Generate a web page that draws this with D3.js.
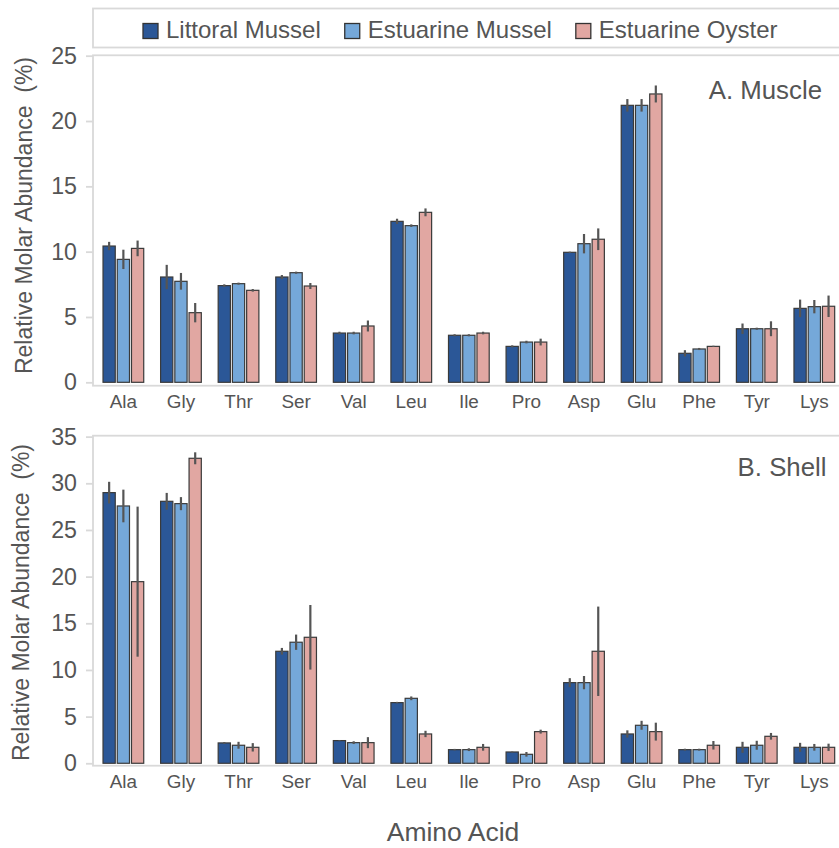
<!DOCTYPE html>
<html>
<head>
<meta charset="utf-8">
<script src="https://cdn.jsdelivr.net/npm/d3@7"></script>
<style>
  html, body { margin: 0; padding: 0; background: #fff; }
  svg { display: block; font-family: "Liberation Sans", Arial, sans-serif; }
</style>
</head>
<body>
<svg id="chart" width="839" height="848"></svg>
<script>
const categories = ["Ala","Gly","Thr","Ser","Val","Leu","Ile","Pro","Asp","Glu","Phe","Tyr","Lys"];
const series = ["Littoral Mussel","Estuarine Mussel","Estuarine Oyster"];
const seriesColors = ["#2b5797","#75a8d9","#e1a7a2"];

const muscleLittoral      = [10.43, 8.06, 7.40, 8.06, 3.77, 12.32, 3.60, 2.75, 9.95, 21.20, 2.22, 4.10, 5.66];
const muscleLittoralErr   = [0.32, 0.93, 0.10, 0.15, 0.10, 0.20, 0.08, 0.08, 0.05, 0.48, 0.24, 0.40, 0.67];
const muscleEstMussel     = [9.41, 7.73, 7.55, 8.39, 3.77, 11.99, 3.60, 3.08, 10.61, 21.20, 2.55, 4.10, 5.79];
const muscleEstMusselErr  = [0.74, 0.64, 0.08, 0.08, 0.10, 0.10, 0.08, 0.10, 0.74, 0.48, 0.08, 0.08, 0.51];
const muscleEstOyster     = [10.25, 5.33, 7.04, 7.37, 4.31, 13.01, 3.77, 3.08, 10.95, 22.07, 2.75, 4.10, 5.82];
const muscleEstOysterErr  = [0.60, 0.74, 0.10, 0.23, 0.42, 0.30, 0.10, 0.26, 0.83, 0.65, 0.05, 0.57, 0.82];

const shellLittoral       = [29.00, 28.07, 2.18, 12.00, 2.43, 6.50, 1.46, 1.21, 8.64, 3.14, 1.46, 1.71, 1.71];
const shellLittoralErr    = [1.16, 0.90, 0.10, 0.36, 0.05, 0.08, 0.08, 0.05, 0.48, 0.39, 0.10, 0.59, 0.48];
const shellEstMussel      = [27.57, 27.82, 1.93, 12.97, 2.21, 6.96, 1.46, 0.96, 8.64, 4.07, 1.46, 1.93, 1.71];
const shellEstMusselErr   = [1.75, 0.70, 0.37, 0.82, 0.15, 0.20, 0.15, 0.25, 0.71, 0.48, 0.10, 0.48, 0.36];
const shellEstOyster      = [19.46, 32.68, 1.71, 13.50, 2.21, 3.14, 1.71, 3.39, 12.00, 3.39, 1.93, 2.89, 1.71];
const shellEstOysterErr   = [8.04, 0.64, 0.45, 3.46, 0.59, 0.34, 0.36, 0.21, 4.79, 0.96, 0.46, 0.36, 0.39];

const muscleTicks = [0, 5, 10, 15, 20, 25];
const shellTicks = [0, 5, 10, 15, 20, 25, 30, 35];

const yTitle = "Relative Molar Abundance  (%)";
const xTitle = "Amino Acid";

const svg = d3.select("#chart");
const textColor = "#555555";
const borderColor = "#d9d9d9";

// x scales
const x = d3.scaleBand().domain(categories).range([93, 844.7]).paddingInner(0.293).paddingOuter(0.174);
const xs = d3.scaleBand().domain(series).range([0, x.bandwidth()]).paddingInner(0.14).paddingOuter(0);

// legend
const legend = svg.append("g");
legend.append("rect").attr("x", 93).attr("y", 8.5).attr("width", 760).attr("height", 39)
  .attr("fill", "none").attr("stroke", borderColor).attr("stroke-width", 1.8);
let lx = 143;
series.forEach((s, i) => {
  legend.append("rect").attr("x", lx).attr("y", 23.5).attr("width", 15).attr("height", 15)
    .attr("fill", seriesColors[i]).attr("stroke", "#333").attr("stroke-width", 1.3);
  const t = legend.append("text").attr("x", lx + 23).attr("y", 38.3)
    .attr("font-size", 24).attr("fill", textColor).text(s);
  lx = lx + 23 + t.node().getComputedTextLength() + 24;
});

function panel(cfg) {
  const g = svg.append("g");
  const y = d3.scaleLinear().domain(cfg.domain).range([cfg.bottom, cfg.top]);
  // border
  g.append("rect").attr("x", 93).attr("y", cfg.top).attr("width", 760).attr("height", cfg.bottom - cfg.top)
    .attr("fill", "none").attr("stroke", borderColor).attr("stroke-width", 1.8);
  // y axis
  const ax = g.append("g").attr("transform", "translate(93,0)")
    .call(d3.axisLeft(y).tickValues(cfg.ticks).tickSize(7).tickPadding(9).tickFormat(d3.format("d")));
  ax.select(".domain").remove();
  ax.selectAll(".tick line").attr("stroke", borderColor).attr("stroke-width", 1.8);
  ax.selectAll(".tick text").attr("fill", textColor).attr("font-size", 23.2)
    .style("font-family", '"Liberation Sans", Arial, sans-serif');
  // x axis labels
  const xa = g.append("g").attr("transform", `translate(0,${cfg.bottom})`)
    .call(d3.axisBottom(x).tickSize(0).tickPadding(cfg.xLabelPad));
  xa.select(".domain").remove();
  xa.selectAll(".tick text").attr("fill", textColor).attr("font-size", 18.9)
    .style("font-family", '"Liberation Sans", Arial, sans-serif');
  // bars
  const rows = [];
  categories.forEach((c, ci) => {
    series.forEach((s, si) => {
      rows.push({cat: c, ser: s, si: si, v: cfg.values[si][ci], e: cfg.errors[si][ci]});
    });
  });
  g.selectAll("rect.bar").data(rows).join("rect").attr("class", "bar")
    .attr("x", d => x(d.cat) + xs(d.ser))
    .attr("width", xs.bandwidth())
    .attr("y", d => y(d.v))
    .attr("height", d => y(0) - y(d.v))
    .attr("fill", d => seriesColors[d.si])
    .attr("stroke", "#3a3a3a").attr("stroke-width", 1.2);
  g.selectAll("line.err").data(rows).join("line").attr("class", "err")
    .attr("x1", d => x(d.cat) + xs(d.ser) + xs.bandwidth() / 2)
    .attr("x2", d => x(d.cat) + xs(d.ser) + xs.bandwidth() / 2)
    .attr("y1", d => y(d.v + d.e))
    .attr("y2", d => y(d.v - d.e))
    .attr("stroke", "#555").attr("stroke-width", 2.2);
  // panel label
  g.append("text").attr("x", cfg.labelX).attr("y", cfg.labelY).attr("text-anchor", "end")
    .attr("font-size", 25.8).attr("fill", textColor).text(cfg.label);
  // y title
  g.append("text").attr("transform", `translate(${cfg.titleX},${cfg.titleY}) rotate(-90)`)
    .attr("text-anchor", "middle").attr("font-size", 23).attr("fill", textColor)
    .style("white-space", "pre").text(yTitle);
}

panel({
  top: 55.3, bottom: 385.7, domain: [-0.26, 25.03],
  ticks: muscleTicks,
  values: [muscleLittoral, muscleEstMussel, muscleEstOyster],
  errors: [muscleLittoralErr, muscleEstMusselErr, muscleEstOysterErr],
  label: "A. Muscle", labelX: 822, labelY: 98.5,
  titleX: 31.5, titleY: 215.5, xLabelPad: 9
});

panel({
  top: 435.7, bottom: 765.7, domain: [-0.26, 35.1],
  ticks: shellTicks,
  values: [shellLittoral, shellEstMussel, shellEstOyster],
  errors: [shellLittoralErr, shellEstMusselErr, shellEstOysterErr],
  label: "B. Shell", labelX: 826.5, labelY: 476,
  titleX: 29, titleY: 602.5, xLabelPad: 9
});

svg.append("text").attr("x", 453).attr("y", 841).attr("text-anchor", "middle")
  .attr("font-size", 26.5).attr("fill", textColor).text(xTitle);
</script>
</body>
</html>
